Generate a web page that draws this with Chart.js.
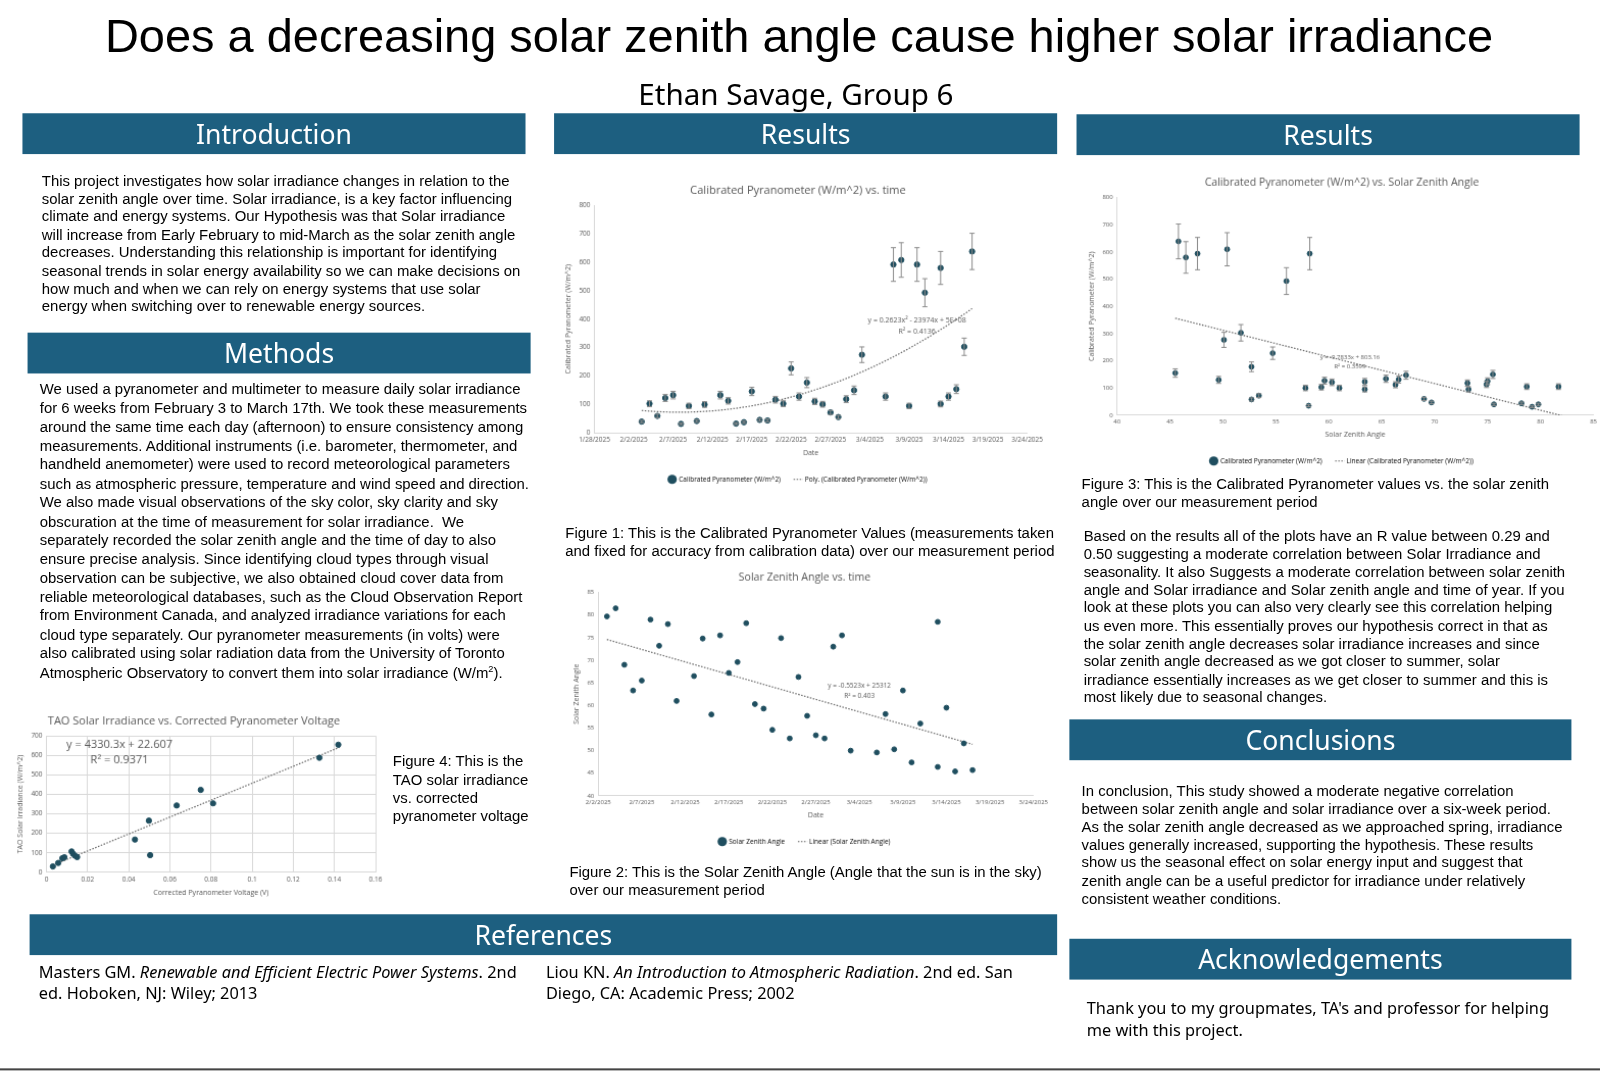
<!DOCTYPE html>
<html>
<head>
<meta charset="utf-8">
<script src="https://cdn.jsdelivr.net/npm/chart.js@4.4.1/dist/chart.umd.min.js"></script>
<style>
  body{margin:0;background:#fff;width:1600px;height:1071px;overflow:hidden;font-family:"Liberation Sans",Arial,sans-serif;color:#000;}
  #poster{position:absolute;left:0;top:0;width:1568px;height:1050px;transform:scale(1.0204);transform-origin:0 0;}
  .abs{position:absolute;}
  .bar{position:absolute;background:#1d5f80;color:#fff;font-family:"Noto Sans",sans-serif;font-size:26px;text-align:center;line-height:40px;height:40px;}
  .txt{position:absolute;font-size:14.6px;line-height:17.6px;}
  .cap{position:absolute;font-size:14.6px;line-height:18px;}
  .chart{position:absolute;}
</style>
</head>
<body>
<div id="poster">
<div class="abs" style="left:0;top:8px;width:1566px;text-align:center;font-size:46px;">Does a decreasing solar zenith angle cause higher solar irradiance</div>
<div class="abs" style="left:0;top:72px;width:1560px;text-align:center;font-size:29px;font-family:'Noto Sans',sans-serif;">Ethan Savage, Group 6</div>

<div class="bar" style="left:22px;top:111px;width:493px;">Introduction</div>
<div class="bar" style="left:543px;top:111px;width:493px;">Results</div>
<div class="bar" style="left:1055px;top:112px;width:493px;">Results</div>
<div class="bar" style="left:27px;top:326px;width:493px;">Methods</div>
<div class="bar" style="left:29px;top:896px;width:1007px;">References</div>
<div class="bar" style="left:1048px;top:705px;width:492px;">Conclusions</div>
<div class="bar" style="left:1048px;top:920px;width:492px;">Acknowledgements</div>

<div class="txt" style="left:41px;top:169px;width:472px;">This project investigates how solar irradiance changes in relation to the solar zenith angle over time. Solar irradiance, is a key factor influencing climate and energy systems. Our Hypothesis was that Solar irradiance will increase from Early February to mid-March as the solar zenith angle decreases. Understanding this relationship is important for identifying seasonal trends in solar energy availability so we can make decisions on how much and when we can rely on energy systems that use solar energy when switching over to renewable energy sources.</div>

<div class="txt" style="left:39px;top:372px;width:480px;line-height:18.5px;">We used a pyranometer and multimeter to measure daily solar irradiance for 6 weeks from February 3 to March 17th. We took these measurements around the same time each day (afternoon) to ensure consistency among measurements. Additional instruments (i.e. barometer, thermometer, and handheld anemometer) were used to record meteorological parameters such as atmospheric pressure, temperature and wind speed and direction. We also made visual observations of the sky color, sky clarity and sky obscuration at the time of measurement for solar irradiance.&nbsp; We separately recorded the solar zenith angle and the time of day to also ensure precise analysis. Since identifying cloud types through visual observation can be subjective, we also obtained cloud cover data from reliable meteorological databases, such as the Cloud Observation Report from Environment Canada, and analyzed irradiance variations for each cloud type separately. Our pyranometer measurements (in volts) were also calibrated using solar radiation data from the University of Toronto Atmospheric Observatory to convert them into solar irradiance (W/m<sup style="font-size:9px;line-height:0">2</sup>).</div>

<div class="cap" style="left:554px;top:513px;width:485px;">Figure 1: This is the Calibrated Pyranometer Values (measurements taken and fixed for accuracy from calibration data) over our measurement period</div>
<div class="cap" style="left:558px;top:845px;width:480px;">Figure 2: This is the Solar Zenith Angle (Angle that the sun is in the sky) over our measurement period</div>
<div class="cap" style="left:1060px;top:465px;width:480px;">Figure 3: This is the Calibrated Pyranometer values vs. the solar zenith angle over our measurement period</div>
<div class="cap" style="left:385px;top:737px;width:140px;">Figure 4: This is the TAO solar irradiance vs. corrected pyranometer voltage</div>

<div class="txt" style="left:1062px;top:517px;width:472px;">Based on the results all of the plots have an R value between 0.29 and 0.50 suggesting a moderate correlation between Solar Irradiance and seasonality. It also Suggests a moderate correlation between solar zenith angle and Solar irradiance and Solar zenith angle and time of year. If you look at these plots you can also very clearly see this correlation helping us even more. This essentially proves our hypothesis correct in that as the solar zenith angle decreases solar irradiance increases and since solar zenith angle decreased as we got closer to summer, solar irradiance essentially increases as we get closer to summer and this is most likely due to seasonal changes.</div>

<div class="txt" style="left:1060px;top:767px;width:475px;">In conclusion, This study showed a moderate negative correlation between solar zenith angle and solar irradiance over a six-week period. As the solar zenith angle decreased as we approached spring, irradiance values generally increased, supporting the hypothesis. These results show us the seasonal effect on solar energy input and suggest that zenith angle can be a useful predictor for irradiance under relatively consistent weather conditions.</div>

<div class="abs" style="left:38px;top:942px;width:490px;font-size:16px;line-height:21px;font-family:'Noto Sans',sans-serif;">Masters GM. <i>Renewable and Efficient Electric Power Systems</i>. 2nd ed. Hoboken, NJ: Wiley; 2013</div>
<div class="abs" style="left:535px;top:942px;width:480px;font-size:16px;line-height:21px;font-family:'Noto Sans',sans-serif;">Liou KN. <i>An Introduction to Atmospheric Radiation</i>. 2nd ed. San Diego, CA: Academic Press; 2002</div>
<div class="abs" style="left:1065px;top:978px;width:470px;font-size:16px;line-height:21px;font-family:'Noto Sans',sans-serif;">Thank you to my groupmates, TA's and professor for helping me with this project.</div>
<div class="abs" style="left:0;top:1047px;width:1568px;height:2px;background:#444;"></div>

<div class="chart" style="left:545px;top:170px;width:480px;height:315px;"><canvas id="c1"></canvas></div>
<div class="chart" style="left:1058px;top:165px;width:510px;height:300px;"><canvas id="c2"></canvas></div>
<div class="chart" style="left:553px;top:550px;width:477px;height:290px;"><canvas id="c3"></canvas></div>
<div class="chart" style="left:8px;top:690px;width:370px;height:195px;"><canvas id="c4"></canvas></div>
</div>

<script>
const irrDates = ['2025-02-03','2025-02-04','2025-02-05','2025-02-06','2025-02-07','2025-02-08','2025-02-09','2025-02-10','2025-02-11','2025-02-13','2025-02-14','2025-02-15','2025-02-16','2025-02-17','2025-02-18','2025-02-19','2025-02-20','2025-02-21','2025-02-22','2025-02-23','2025-02-24','2025-02-25','2025-02-26','2025-02-27','2025-02-28','2025-03-01','2025-03-02','2025-03-03','2025-03-06','2025-03-07','2025-03-08','2025-03-09','2025-03-10','2025-03-11','2025-03-13','2025-03-13','2025-03-14','2025-03-15','2025-03-16','2025-03-17'];
const irrValues = [40,103,60,123,133,32,95,42,100,133,113,33,38,146,46,44,117,103,227,128,177,111,101,72,56,119,150,275,128,592,608,95,592,493,580,102,128,154,303,638];

const szaDates = ['2025-02-03','2025-02-04','2025-02-05','2025-02-06','2025-02-07','2025-02-08','2025-02-09','2025-02-10','2025-02-11','2025-02-13','2025-02-14','2025-02-15','2025-02-16','2025-02-17','2025-02-18','2025-02-19','2025-02-20','2025-02-21','2025-02-22','2025-02-23','2025-02-24','2025-02-25','2025-02-26','2025-02-27','2025-02-28','2025-03-01','2025-03-02','2025-03-03','2025-03-06','2025-03-07','2025-03-08','2025-03-09','2025-03-10','2025-03-11','2025-03-13','2025-03-13','2025-03-14','2025-03-15','2025-03-16','2025-03-17'];
const szaValues = [79.7,81.5,69,63.3,65.5,79,73.2,78,61,66.5,74.8,58,75.5,67.2,69.6,78.2,60.3,59.3,54.6,74.9,52.7,66.3,57.7,53.4,52.7,73,75.5,50,49.6,58.1,50.3,63.3,47.4,56,78.5,46.4,59.5,45.4,51.6,45.7];

const zenAngle = [45.8,46.5,47.6,50.4,58.2,56.0,51.7,50.1,54.7,45.5,49.6,52.7,52.7,53.4,57.8,58.1,59.3,59.6,60.3,61.0,63.4,63.4,65.4,66.3,66.6,67.3,69.0,69.7,73.1,73.2,74.9,75.0,75.5,75.6,78.2,78.7,79.2,79.8,81.7];
const zenIrr = [639,580,594,610,594,493,303,277,228,155,130,178,58,72,100,35,103,127,121,100,123,95,134,112,131,147,60,47,118,95,113,125,150,40,44,105,31,40,105];

const taoVolt = [0.0031,0.0057,0.0077,0.0087,0.0122,0.0129,0.0139,0.0149,0.043,0.0498,0.0504,0.0633,0.075,0.081,0.1327,0.1419];
const taoIrr = [30,48,72,77,107,95,85,78,168,265,88,343,423,354,588,655];

const errPct = 0.1; // percentage error bars
const startDay = new Date('2025-01-28T00:00:00Z');
const dayOf = s => Math.round((new Date(s+'T00:00:00Z') - startDay)/86400000);
const dayLabel = d => { const t = new Date(startDay.getTime()+d*86400000); return (t.getUTCMonth()+1)+'/'+t.getUTCDate()+'/'+t.getUTCFullYear(); };

const pts = (xs, ys) => xs.map((x,i)=>({x:x, y:ys[i]}));
function linFit(xs, ys){
  const n=xs.length, mx=xs.reduce((a,b)=>a+b)/n, my=ys.reduce((a,b)=>a+b)/n;
  let sxy=0,sxx=0; xs.forEach((x,i)=>{sxy+=(x-mx)*(ys[i]-my); sxx+=(x-mx)*(x-mx);});
  const b=sxy/sxx; return x=>my+b*(x-mx);
}
function quadFit(xs, ys){
  const S=k=>xs.reduce((a,x)=>a+Math.pow(x,k),0), T=k=>xs.reduce((a,x,i)=>a+Math.pow(x,k)*ys[i],0);
  const A=[[S(0),S(1),S(2),T(0)],[S(1),S(2),S(3),T(1)],[S(2),S(3),S(4),T(2)]];
  for(let i=0;i<3;i++){for(let j=i+1;j<3;j++){const f=A[j][i]/A[i][i];for(let k=i;k<4;k++)A[j][k]-=f*A[i][k];}}
  const c=[0,0,0]; for(let i=2;i>=0;i--){let s=A[i][3];for(let k=i+1;k<3;k++)s-=A[i][k]*c[k];c[i]=s/A[i][i];}
  return x=>c[0]+c[1]*x+c[2]*x*x;
}
function trendPts(f, x0, x1, n){ const out=[]; for(let i=0;i<=n;i++){const x=x0+(x1-x0)*i/n; out.push({x:x,y:f(x)});} return out; }

const errorBars = {
  id:'errorBars',
  afterDatasetsDraw(chart){
    const ctx=chart.ctx, xs=chart.scales.x, ys=chart.scales.y;
    chart.data.datasets.forEach(ds=>{
      if(!ds.errBars) return;
      ctx.save(); ctx.strokeStyle='#8c8c8c'; ctx.lineWidth=1;
      ds.data.forEach(p=>{
        const px=xs.getPixelForValue(p.x), y1=ys.getPixelForValue(p.y*(1-errPct)), y2=ys.getPixelForValue(p.y*(1+errPct));
        ctx.beginPath(); ctx.moveTo(px,y1); ctx.lineTo(px,y2);
        ctx.moveTo(px-2.5,y1); ctx.lineTo(px+2.5,y1); ctx.moveTo(px-2.5,y2); ctx.lineTo(px+2.5,y2); ctx.stroke();
      });
      ctx.restore();
    });
  }
};
const eqLabel = {
  id:'eqLabel',
  afterDatasetsDraw(chart, args, o){
    if(!o.lines) return;
    const ctx=chart.ctx; ctx.save(); ctx.fillStyle='#595959'; ctx.font=o.font||'7px "Open Sans"'; ctx.textAlign='center';
    const x=chart.scales.x.getPixelForValue(o.x), y=chart.scales.y.getPixelForValue(o.y);
    o.lines.forEach((l,i)=>ctx.fillText(l,x,y+i*(o.lh||11)));
    ctx.restore();
  }
};
Chart.register(errorBars, eqLabel);

const grey='#595959', dot='#1f4e5f';
Chart.defaults.font.family='"Open Sans", sans-serif';
Chart.defaults.color=grey;
Chart.defaults.animation=false;

function opts(cfg){
  return {
    responsive:true, maintainAspectRatio:false,
    layout:{padding:cfg.pad||{left:4,right:10,top:4,bottom:2}},
    plugins:{
      title:{display:true,text:cfg.title,font:{size:cfg.tsize||11,weight:'normal'},color:grey,padding:{top:6,bottom:8}},
      legend:{display:cfg.legend!==false,position:'bottom',labels:{font:{size:6.5},usePointStyle:true,padding:14,
        generateLabels:ch=>ch.data.datasets.map((d,i)=>({text:d.label,fillStyle:dot,strokeStyle:i?'#666':dot,lineWidth:i?1:0,lineDash:i?[1.5,1.5]:[],pointStyle:i?'line':'circle',datasetIndex:i}))}},
      tooltip:{enabled:false},
      eqLabel:cfg.eq||{}
    },
    scales:{
      x:{type:'linear',min:cfg.xmin,max:cfg.xmax,
        ticks:{stepSize:cfg.xstep,font:{size:cfg.fs||6.5},color:grey,maxRotation:0,autoSkip:false,callback:cfg.xcb||(v=>v)},
        grid:{display:!!cfg.xgrid,color:'#d9d9d9',drawTicks:false},border:{color:'#d9d9d9'},
        title:{display:!!cfg.xtitle,text:cfg.xtitle,font:{size:7},color:grey,padding:{top:2}}},
      y:{min:cfg.ymin,max:cfg.ymax,
        ticks:{stepSize:cfg.ystep,font:{size:cfg.fs||6.5},color:grey,padding:4},
        grid:{display:!!cfg.ygrid,color:'#d9d9d9',drawTicks:false},border:{color:'#d9d9d9'},
        title:{display:true,text:cfg.ytitle,font:{size:7},color:grey,padding:{bottom:2}}}
    }
  };
}

// Chart 1: irradiance vs time
const d1 = irrDates.map(dayOf);
new Chart(document.getElementById('c1'),{
  type:'scatter',
  data:{datasets:[
    {label:'Calibrated Pyranometer (W/m^2)',data:pts(d1,irrValues),backgroundColor:dot,borderColor:dot,pointRadius:2.6,errBars:true},
    {label:'Poly. (Calibrated Pyranometer (W/m^2))',type:'line',data:trendPts(quadFit(d1,irrValues),d1[0],d1[d1.length-1],60),borderColor:'#666',borderWidth:1.2,borderDash:[1.5,1.5],pointRadius:0,tension:0}
  ]},
  options:opts({title:'Calibrated Pyranometer (W/m^2) vs. time',xmin:0,xmax:55,xstep:5,ymin:0,ymax:800,ystep:100,xcb:dayLabel,xtitle:'Date',ytitle:'Calibrated Pyranometer (W/m^2)',
    eq:{x:41,y:395,lines:['y = 0.2623x\u00b2 - 23974x + 5E+08','R\u00b2 = 0.4136'],lh:11}})
});

// Chart 2: irradiance vs zenith angle
new Chart(document.getElementById('c2'),{
  type:'scatter',
  data:{datasets:[
    {label:'Calibrated Pyranometer (W/m^2)',data:pts(zenAngle,zenIrr),backgroundColor:dot,borderColor:dot,pointRadius:2.4,errBars:true},
    {label:'Linear (Calibrated Pyranometer (W/m^2))',type:'line',data:trendPts(linFit(zenAngle,zenIrr),45.5,82,2),borderColor:'#666',borderWidth:1.2,borderDash:[1.5,1.5],pointRadius:0}
  ]},
  options:opts({title:'Calibrated Pyranometer (W/m^2) vs. Solar Zenith Angle',tsize:10.5,xmin:40,xmax:85,xstep:5,ymin:0,ymax:800,ystep:100,xtitle:'Solar Zenith Angle',ytitle:'Calibrated Pyranometer (W/m^2)',fs:6,
    pad:{left:4,right:0,top:2,bottom:0},
    eq:{x:62,y:212,lines:['y = -9.7833x + 803.16','R\u00b2 = 0.3599'],lh:9,font:'6px "Open Sans"'}})
});

// Chart 3: zenith angle vs time
const d3 = szaDates.map(dayOf);
new Chart(document.getElementById('c3'),{
  type:'scatter',
  data:{datasets:[
    {label:'Solar Zenith Angle',data:pts(d3,szaValues),backgroundColor:dot,borderColor:dot,pointRadius:2.4},
    {label:'Linear (Solar Zenith Angle)',type:'line',data:trendPts(linFit(d3,szaValues),d3[0],d3[d3.length-1],2),borderColor:'#666',borderWidth:1.2,borderDash:[1.5,1.5],pointRadius:0}
  ]},
  options:opts({title:'Solar Zenith Angle vs. time',tsize:10.5,xmin:5,xmax:55,xstep:5,ymin:40,ymax:85,ystep:5,xcb:dayLabel,xtitle:'Date',ytitle:'Solar Zenith Angle',fs:6,
    eq:{x:35,y:64.3,lines:['y = -0.5523x + 25312','R\u00b2 = 0.403'],lh:10,font:'6.5px "Open Sans"'}})
});

// Chart 4: TAO irradiance vs voltage
new Chart(document.getElementById('c4'),{
  type:'scatter',
  data:{datasets:[
    {label:'TAO',data:pts(taoVolt,taoIrr),backgroundColor:dot,borderColor:dot,pointRadius:2.6},
    {label:'Linear',type:'line',data:trendPts(linFit(taoVolt,taoIrr),0.003,0.1425,2),borderColor:'#666',borderWidth:1.2,borderDash:[1.5,1.5],pointRadius:0}
  ]},
  options:opts({title:'TAO Solar Irradiance vs. Corrected Pyranometer Voltage',legend:false,tsize:11,xmin:0,xmax:0.16,xstep:0.02,ymin:0,ymax:700,ystep:100,xtitle:'Corrected Pyranometer Voltage (V)',ytitle:'TAO Solar Irradiance (W/m^2)',xgrid:true,ygrid:true,fs:6.5,
    xcb:v=>Math.round(v*100)/100,
    eq:{x:0.0355,y:640,lines:['y = 4330.3x + 22.607','R\u00b2 = 0.9371'],lh:15,font:'11px "Open Sans"'}})
});
</script>
</body>
</html>
